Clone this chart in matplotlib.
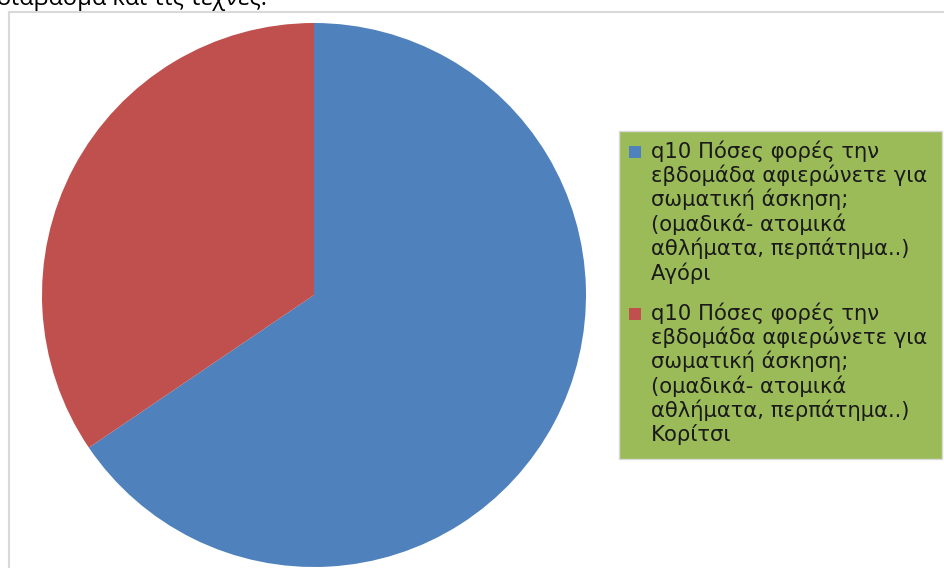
import matplotlib.pyplot as plt
from matplotlib.lines import Line2D
from matplotlib.patches import Rectangle

question = 'q10 Πόσες φορές την\nεβδομάδα αφιερώνετε για\nσωματική άσκηση;\n(ομαδικά- ατομικά\nαθλήματα, περπάτημα..)\n'
categories = ['Αγόρι', 'Κορίτσι']
values = [19, 10]
colors = ['#4F81BD', '#C0504D']

W, H = 944, 568
fig = plt.figure(figsize=(W / 100, H / 100), dpi=100)

# pie axes: centre (314, 295) px, radius 272 px
cx, cy, r = 314, 295, 272
ax = fig.add_axes([(cx - r) / W, (H - cy - r) / H, 2 * r / W, 2 * r / H])
wedges, _ = ax.pie(values, colors=colors, startangle=90, counterclock=False,
                   radius=1, wedgeprops={'linewidth': 0})
ax.set_xlim(-1, 1)
ax.set_ylim(-1, 1)
ax.set_aspect('equal')
ax.axis('off')

# chart frame (only left and top edges are visible)
fig.add_artist(Line2D([9 / W, 9 / W], [0, 1 - 12 / H], color='#D9D9D9', lw=1.5,
                      transform=fig.transFigure))
fig.add_artist(Line2D([9 / W, 1], [1 - 12 / H, 1 - 12 / H], color='#D9D9D9', lw=1.5,
                      transform=fig.transFigure))

# cut-off document text above chart
fig.text(-0.003, 1 - 5 / H, 'διάβασμα και τις τέχνες.', fontsize=17,
         family='Open Sans', va='baseline', ha='left')

# legend box drawn by hand (handles aligned with first text line)
fig.add_artist(Rectangle((619 / W, 1 - 459 / H), (942 - 619) / W, (459 - 131) / H,
                         facecolor='#9BBB59', edgecolor='#D9D9D9', lw=1,
                         transform=fig.transFigure))
block_tops = [140, 302]
for top, cat, col in zip(block_tops, categories, colors):
    fig.add_artist(Rectangle((629 / W, 1 - (top + 18) / H), 12 / W, 12 / H,
                             facecolor=col, edgecolor='none',
                             transform=fig.transFigure))
    fig.text(651 / W, 1 - top / H, question + cat, fontsize=15.2, linespacing=1.17,
             family='DejaVu Sans', va='top', ha='left', color='#1a1a1a')

fig.savefig('out.png', dpi=100)
